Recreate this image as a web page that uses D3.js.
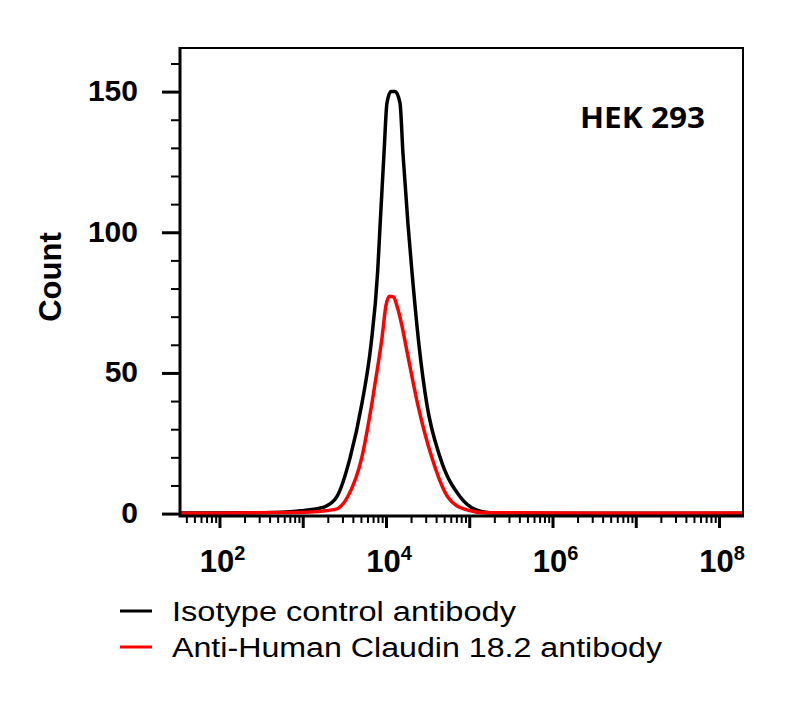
<!DOCTYPE html>
<html>
<head>
  <meta charset="utf-8">
  <script src="https://d3js.org/d3.v7.min.js"></script>
  <style type="text/css">
    body { margin: 0; background: #fff; }
    svg text { font-family: "Liberation Sans", Arial, sans-serif; fill: #000; }
  </style>
</head>
<body>
<svg id="chart" width="800" height="717"></svg>
<script>
  // fluorescence intensity as log10 exponents, counts
  const isotypeLog = [1.53, 2.37, 2.85, 3.09, 3.27, 3.41, 3.57, 3.71, 3.82, 3.90, 3.93, 3.976, 4.012, 4.06, 4.11, 4.168, 4.204, 4.264, 4.312, 4.396, 4.49, 4.65, 4.89, 5.07, 5.25, 6.09, 8.29];
  const isotypeCount = [0.2, 0.3, 0.7, 1.4, 2.5, 6, 20, 39, 60, 86, 103, 128, 146, 150, 150, 146, 128, 103, 86, 60, 39, 20, 6, 1.5, 0.3, 0.1, 0.1];

  const claudinLog = [1.53, 2.97, 3.39, 3.54, 3.71, 3.83, 3.90, 3.95, 4.00, 4.04, 4.09, 4.13, 4.19, 4.25, 4.38, 4.55, 4.74, 4.95, 5.19, 6.57, 8.29];
  const claudinCount = [0.1, 0.4, 1.5, 6, 20, 39, 52, 62, 74, 77.3, 77, 74, 67, 58, 39, 20, 6, 1.5, 0.3, 0.1, 0.2];

  const seriesNames = ['Isotype control antibody', 'Anti-Human Claudin 18.2 antibody'];
  const seriesColors = ['#000000', '#ff0000'];

  const yMajorTicks = [0, 50, 100, 150];
  const yMinorTicks = [10, 20, 30, 40, 60, 70, 80, 90, 110, 120, 130, 140, 160];
  const xLabelExps = [2, 4, 6, 8];
  const cellLine = 'HEK 293';

  const chart = d3.select('#chart');
  const plotL = 180, plotR = 743, plotT = 48, plotB = 515;

  const x = d3.scaleLog()
    .domain([Math.pow(10, 1.526), Math.pow(10, 8.288)])
    .range([plotL, plotR]);
  const y = d3.scaleLinear()
    .domain([-0.5, 165.5])
    .range([plotB, plotT]);

  // minor / major ticks on x (every decade, 2..9 inside)
  const xMajor = d3.range(2, 9).map(e => Math.pow(10, e));
  const xMinor = [];
  for (let e = 1; e <= 8; e++) {
    for (let k = 2; k <= 9; k++) {
      const v = k * Math.pow(10, e);
      if (v > x.domain()[0] && v < x.domain()[1]) xMinor.push(v);
    }
  }

  const xMinorAxis = chart.append('g')
    .attr('transform', `translate(0 ${plotB})`)
    .call(d3.axisBottom(x).tickValues(xMinor).tickSize(8).tickFormat(''));
  xMinorAxis.select('.domain').remove();
  xMinorAxis.selectAll('line').attr('stroke-width', 2);

  const xMajorAxis = chart.append('g')
    .attr('transform', `translate(0 ${plotB})`)
    .call(d3.axisBottom(x).tickValues(xMajor).tickSize(13).tickFormat(''));
  xMajorAxis.select('.domain').remove();
  xMajorAxis.selectAll('line').attr('stroke-width', 3);

  // x labels with superscript
  const xl = chart.append('g').selectAll('text')
    .data(xLabelExps)
    .join('text')
    .attr('x', d => x(Math.pow(10, d)) + 3)
    .attr('y', 572)
    .attr('text-anchor', 'middle')
    .attr('font-weight', 'bold')
    .attr('font-size', 31);
  xl.append('tspan').text('10');
  xl.append('tspan').attr('font-size', 20).attr('dy', -12).text(d => d);

  // y axis ticks
  const yMinorAxis = chart.append('g')
    .attr('transform', `translate(${plotL} 0)`)
    .call(d3.axisLeft(y).tickValues(yMinorTicks).tickSize(9).tickFormat(''));
  yMinorAxis.select('.domain').remove();
  yMinorAxis.selectAll('line').attr('stroke-width', 2);

  const yMajorAxis = chart.append('g')
    .attr('transform', `translate(${plotL} 0)`)
    .call(d3.axisLeft(y).tickValues(yMajorTicks).tickSize(18).tickPadding(24));
  yMajorAxis.select('.domain').remove();
  yMajorAxis.selectAll('line').attr('stroke-width', 3);
  yMajorAxis.selectAll('text')
    .attr('font-size', 30)
    .attr('font-weight', 'bold')
    .attr('fill', '#000')
    .attr('dy', '0.3em');

  chart.append('text')
    .attr('transform', 'translate(61 277) rotate(-90)')
    .attr('text-anchor', 'middle')
    .attr('font-size', 31)
    .attr('font-weight', 'bold')
    .text('Count');

  // curves
  const line = d3.line()
    .x(d => x(Math.pow(10, d[0])))
    .y(d => y(d[1]))
    .curve(d3.curveMonotoneX);

  const series = [
    d3.zip(isotypeLog, isotypeCount),
    d3.zip(claudinLog, claudinCount)
  ];

  chart.append('g').selectAll('path')
    .data(series)
    .join('path')
    .attr('fill', 'none')
    .attr('stroke', (d, i) => seriesColors[i])
    .attr('stroke-width', 3.5)
    .attr('stroke-linejoin', 'round')
    .attr('d', line);

  // frame
  chart.append('path')
    .attr('d', `M${plotL},${plotT}H${plotR}V${plotB + 1}`)
    .attr('fill', 'none')
    .attr('stroke', '#000')
    .attr('stroke-width', 2);
  chart.append('path')
    .attr('d', `M${plotL},${plotT - 1}V${plotB + 1}H${plotR + 1}`)
    .attr('fill', 'none')
    .attr('stroke', '#000')
    .attr('stroke-width', 3);

  chart.append('text')
    .attr('x', 580)
    .attr('y', 128)
    .attr('font-size', 28)
    .attr('font-weight', 'bold')
    .style('font-family', '"Open Sans", "Liberation Sans", sans-serif')
    .attr('textLength', 125)
    .attr('lengthAdjust', 'spacingAndGlyphs')
    .text(cellLine);

  // legend
  const legendWidths = [344, 490];
  const legend = chart.append('g').selectAll('g')
    .data(seriesNames)
    .join('g')
    .attr('transform', (d, i) => `translate(0 ${611 + i * 36})`);
  legend.append('line')
    .attr('x1', 120).attr('x2', 152)
    .attr('stroke', (d, i) => seriesColors[i])
    .attr('stroke-width', 3);
  legend.append('text')
    .attr('x', 172)
    .attr('y', 10)
    .attr('font-size', 27)
    .attr('textLength', (d, i) => legendWidths[i])
    .attr('lengthAdjust', 'spacingAndGlyphs')
    .text(d => d);
</script>
</body>
</html>
